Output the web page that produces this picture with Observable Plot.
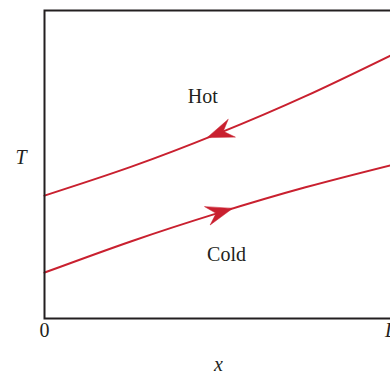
<!DOCTYPE html>
<html><head><meta charset="utf-8">
<script src="https://cdn.jsdelivr.net/npm/d3@7"></script>
<script src="https://cdn.jsdelivr.net/npm/@observablehq/plot@0.6"></script>
<style>html,body{margin:0;padding:0;overflow:hidden;background:#fff;width:390px;height:377px}#chart svg{max-width:none !important;display:block}</style>
</head><body><div id="chart"></div>
<script>
// positions along the exchanger (0 .. L) and temperatures (arbitrary units)
const positions = [0, 0.25, 0.5, 0.75, 1];
const hotT = [0.399, 0.493, 0.601, 0.722, 0.857];
const coldT = [0.149, 0.251, 0.343, 0.426, 0.499];
const streamNames = ["Hot", "Cold"];
const arrowX = [0.468, 0.540];
const arrowT = [0.588, 0.357];
const arrowDir = [-1, 1];   // Hot flows toward 0, Cold toward L
const labelX = [0.455, 0.523];
const labelT = [0.719, 0.206];
const tickValues = [0, 1];
const tickLabels = ["0", "L"];
const axisLabels = ["x", "T"];

const RED = "#c9202f";
const INK = "#231f20";
const FONT = "'Liberation Serif', 'DejaVu Serif', serif";

const W = 400, H = 377;
const mL = 44, mR = 8, mT = 10, mB = 59;
const xDomain = [0, 1], yDomain = [0, 1];

const sx = Plot.scale({x: {domain: xDomain, range: [mL, W - mR]}});
const sy = Plot.scale({y: {domain: yDomain, range: [H - mB, mT]}});

const series = [hotT, coldT];
const lineData = [];
series.forEach((vals, s) => positions.forEach((p, i) => lineData.push({stream: streamNames[s], x: p, T: vals[i]})));

function angleAt(s) {
  const vals = series[s];
  const x = arrowX[s];
  let k = positions.findIndex((p, i) => i < positions.length - 1 && x >= p && x <= positions[i + 1]);
  if (k < 0) k = 0;
  const slope = (sy.apply(vals[k + 1]) - sy.apply(vals[k])) / (sx.apply(positions[k + 1]) - sx.apply(positions[k]));
  const dir = arrowDir[s];
  return Math.atan2(dir, -dir * slope) * 180 / Math.PI;
}
const arrows = streamNames.map((n, s) => ({stream: n, x: arrowX[s], T: arrowT[s], angle: angleAt(s)}));
const labels = streamNames.map((n, s) => ({text: n, x: labelX[s], T: labelT[s]}));

const barb = {
  draw(ctx, l) {
    const w = 9.5, notch = 17;
    ctx.moveTo(0, -l);
    ctx.lineTo(w, 0);
    ctx.lineTo(0, -l + notch);
    ctx.lineTo(-w, 0);
    ctx.closePath();
  }
};

const chart = Plot.plot({
  width: W, height: H,
  marginLeft: mL, marginRight: mR, marginTop: mT, marginBottom: mB,
  x: {domain: xDomain, axis: null},
  y: {domain: yDomain, axis: null},
  style: {fontFamily: FONT, fontSize: "20px", background: "#fff", color: INK, maxWidth: "none"},
  marks: [
    Plot.line(lineData, {x: "x", y: "T", z: "stream", stroke: RED, strokeWidth: 2, curve: "natural"}),
    Plot.vector(arrows, {x: "x", y: "T", rotate: "angle", length: 26, anchor: "end", shape: barb, fill: RED, stroke: RED, strokeWidth: 0.5}),
    Plot.text(labels, {x: "x", y: "T", text: "text", fill: INK, fontSize: 20}),
    Plot.text([tickValues[0]], {x: d => d, frameAnchor: "bottom", dy: 18, text: () => tickLabels[0], fill: INK, fontSize: 20}),
    Plot.text([tickValues[1]], {x: d => d, frameAnchor: "bottom", dy: 18, dx: -2, text: () => tickLabels[1], fill: INK, fontSize: 20, fontStyle: "italic"}),
    Plot.text([axisLabels[0]], {frameAnchor: "bottom", dy: 52, text: d => d, fill: INK, fontSize: 20, fontStyle: "italic"}),
    Plot.text([axisLabels[1]], {frameAnchor: "left", dx: -29, dy: -7, text: d => d, fill: INK, fontSize: 20, fontStyle: "italic"}),
    Plot.frame({stroke: INK, strokeWidth: 2})
  ]
});
chart.style.maxWidth = "none";
document.getElementById("chart").appendChild(chart);
</script>
</body></html>
